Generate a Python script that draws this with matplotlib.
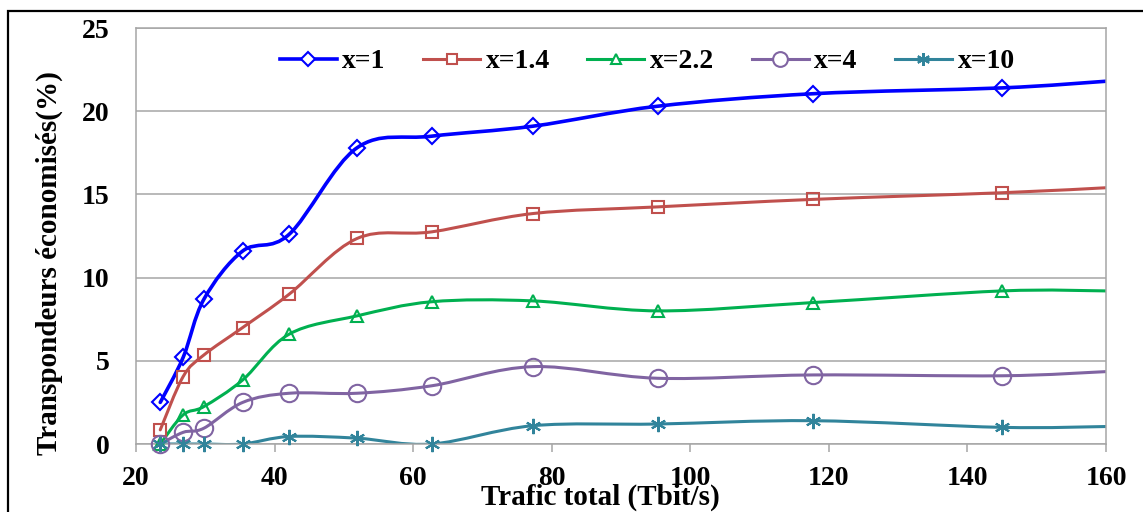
import matplotlib
matplotlib.use("Agg")
import matplotlib.pyplot as plt
from matplotlib.path import Path
from matplotlib.patches import PathPatch, Rectangle
from matplotlib.lines import Line2D

# ---- data ----
traffic = [23.5, 26.8, 29.8, 35.4, 42.1, 51.9, 62.7, 77.3, 95.3, 117.7, 145.0, 160.0]
s_x1 = [2.5, 5.2, 8.7, 11.6, 12.6, 17.8, 18.5, 19.1, 20.3, 21.05, 21.4, 21.8]
s_x14 = [0.85, 4.05, 5.35, 7.0, 9.0, 12.35, 12.75, 13.85, 14.25, 14.7, 15.1, 15.4]
s_x22 = [0.0, 1.75, 2.25, 3.85, 6.6, 7.7, 8.55, 8.6, 8.0, 8.5, 9.2, 9.2]
s_x4 = [0.0, 0.7, 0.95, 2.5, 3.05, 3.05, 3.5, 4.65, 3.95, 4.15, 4.1, 4.35]
s_x10 = [0.0, 0.0, 0.0, 0.0, 0.45, 0.35, 0.0, 1.1, 1.2, 1.4, 1.0, 1.05]
labels = ["x=1", "x=1.4", "x=2.2", "x=4", "x=10"]
xticks = [20, 40, 60, 80, 100, 120, 140, 160]
yticks = [0, 5, 10, 15, 20, 25]

series = [s_x1, s_x14, s_x22, s_x4, s_x10]
colors = ["#0000FF", "#C0504D", "#00B050", "#8064A2", "#31849B"]
markers = ["D", "s", "^", "o", (6, 2, 0)]
msizes = [8, 8, 8.5, 12.5, 11]
lws = [2.6, 2.2, 2.2, 2.2, 2.2]

FONT = "Liberation Serif"


def smooth_path(xs, ys):
    """Excel-like smoothed line (Catmull-Rom as cubic Bezier)."""
    pts = list(zip(xs, ys))
    n = len(pts)
    verts = [pts[0]]
    codes = [Path.MOVETO]
    for i in range(n - 1):
        p0 = pts[i - 1] if i > 0 else pts[i]
        p1 = pts[i]
        p2 = pts[i + 1]
        p3 = pts[i + 2] if i + 2 < n else pts[i + 1]
        c1 = (p1[0] + (p2[0] - p0[0]) / 6.0, p1[1] + (p2[1] - p0[1]) / 6.0)
        c2 = (p2[0] - (p3[0] - p1[0]) / 6.0, p2[1] - (p3[1] - p1[1]) / 6.0)
        verts += [c1, c2, p2]
        codes += [Path.CURVE4] * 3
    return Path(verts, codes)


fig = plt.figure(figsize=(11.43, 5.12), dpi=100)
ax = fig.add_axes([136 / 1143, 68 / 512, (1106 - 136) / 1143, (444 - 28) / 512])

ax.set_xlim(20, 160)
ax.set_ylim(0, 25)
ax.set_xticks(xticks)
ax.set_yticks(yticks)
ax.grid(axis="y", color="#A6A6A6", linewidth=1.1)
ax.set_axisbelow(True)
for sp in ax.spines.values():
    sp.set_color("#A6A6A6")
    sp.set_linewidth(1.1)

ax.tick_params(axis="x", direction="out", length=5.5, width=1.1, color="#A6A6A6", pad=10)
ax.tick_params(axis="y", length=0, pad=19)
for lab in ax.get_xticklabels() + ax.get_yticklabels():
    lab.set_fontfamily(FONT)
    lab.set_fontweight("bold")
    lab.set_fontsize(20)

handles = []
for ys, c, m, ms, lw, lab in zip(series, colors, markers, msizes, lws, labels):
    patch = PathPatch(smooth_path(traffic, ys), facecolor="none", edgecolor=c,
                      linewidth=lw, capstyle="round", joinstyle="round")
    ax.add_patch(patch)
    ax.plot(traffic[:-1], ys[:-1], linestyle="none", marker=m, markersize=ms,
            markerfacecolor="none", markeredgecolor=c, markeredgewidth=1.5,
            clip_on=False, zorder=3)
    handles.append(Line2D([], [], color=c, linewidth=lw, marker=m, markersize=ms * 0.85,
                          markerfacecolor="white", markeredgecolor=c, markeredgewidth=1.5))

leg = ax.legend(handles, labels, loc="upper center", bbox_to_anchor=(0.527, 1.01),
                ncol=5, frameon=False, handlelength=2.05, handletextpad=0.2,
                columnspacing=1.35, prop={"family": FONT, "weight": "bold", "size": 20})

fig.text(600 / 1143, 1 - 497 / 512, "Trafic total (Tbit/s)", ha="center", va="center",
         fontfamily=FONT, fontweight="bold", fontsize=21)
fig.text(49 / 1143, 1 - 263 / 512, "Transpondeurs économisés(%)", ha="center", va="center",
         rotation=90, fontfamily=FONT, fontweight="bold", fontsize=21)

fig.patches.append(Rectangle((8 / 1143, -0.2), 1.5, 0.2 + (1 - 11 / 512),
                             transform=fig.transFigure, fill=False,
                             edgecolor="black", linewidth=1.6, clip_on=False))

fig.savefig("out.png", dpi=100)
